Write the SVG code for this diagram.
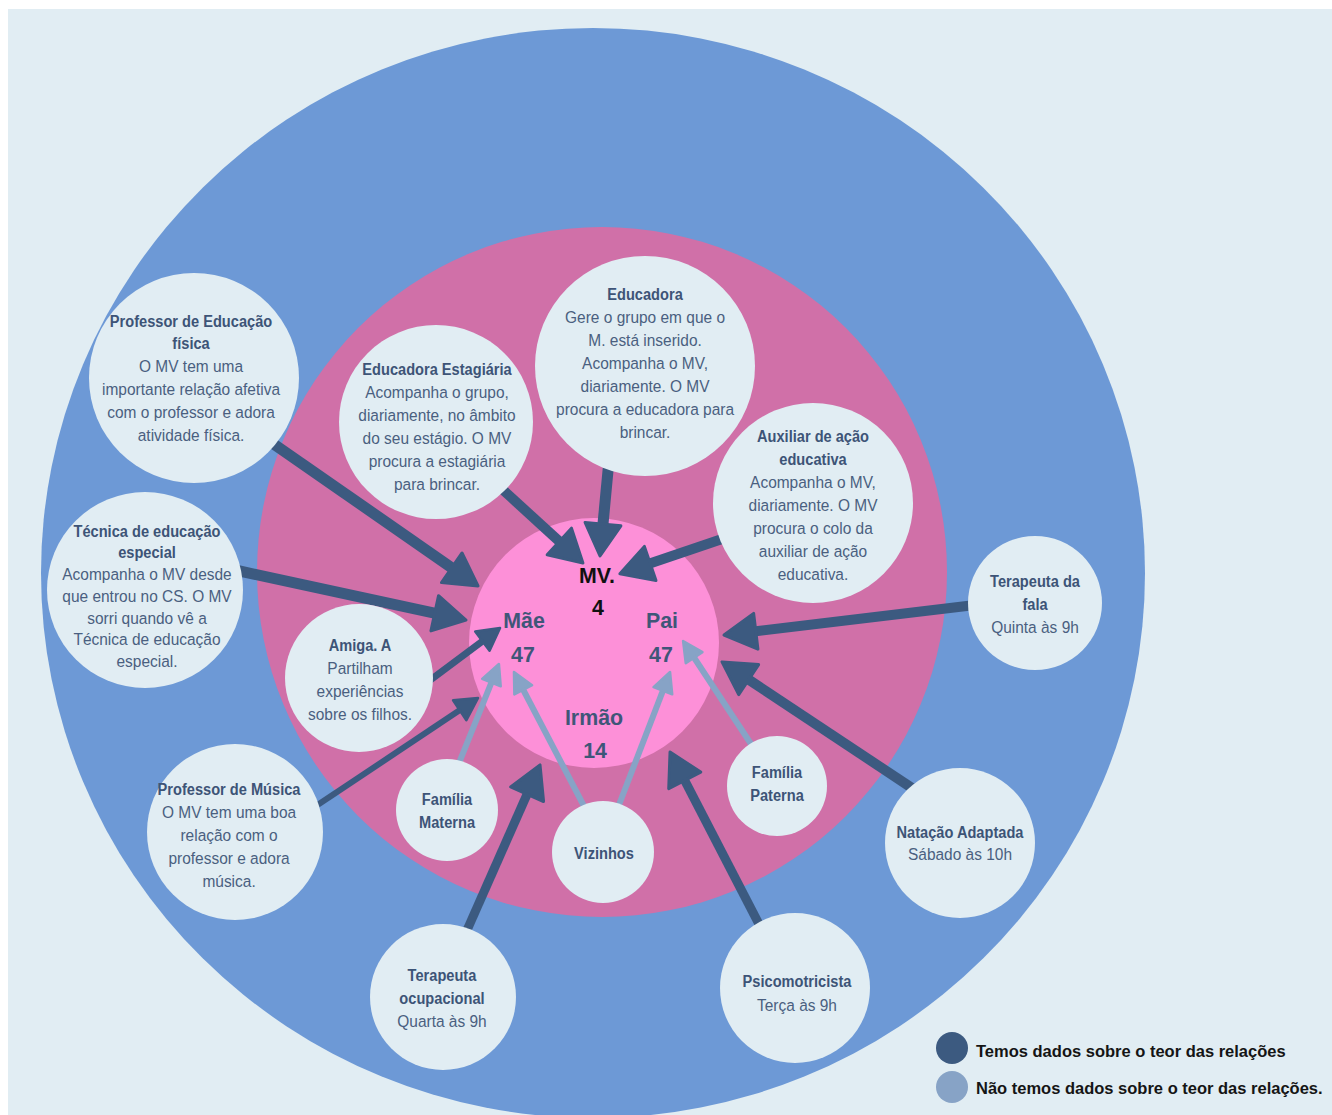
<svg xmlns="http://www.w3.org/2000/svg" width="1332" height="1115" viewBox="0 0 1332 1115">
<defs>
<style>
.bg{fill:#e1edf3}
.node{fill:#e1edf3}
.tb,.tr,.cl{font-family:"Liberation Sans",Arial,sans-serif;text-anchor:middle;transform-box:fill-box;transform-origin:center}
.tb{font-size:17px;font-weight:bold;fill:#3d5477;transform:scaleX(0.86)}
.tr{font-size:17px;fill:#4a5f80;transform:scaleX(0.91)}
.cl{font-size:23px;font-weight:bold;fill:#3f5678;transform:scaleX(0.93)}
.cl.k{fill:#111}
.dk{stroke:#3c5a80;fill:none;stroke-linecap:butt}
.lt{stroke:#87a3c6;fill:none;stroke-width:6}
.lg{font-family:"Liberation Sans",Arial,sans-serif;font-size:16.5px;font-weight:bold;fill:#151515}
</style>
<marker id="hD" markerUnits="userSpaceOnUse" markerWidth="36" markerHeight="42" viewBox="-2 -2 36 42" refX="2" refY="19" orient="auto" overflow="visible">
<path d="M0,1 L32,19 L0,37 z" fill="#3c5a80" stroke="#3c5a80" stroke-width="3" stroke-linejoin="round"/>
</marker>
<marker id="hM" markerUnits="userSpaceOnUse" markerWidth="26" markerHeight="30" viewBox="-2 -2 26 30" refX="2" refY="13" orient="auto" overflow="visible">
<path d="M0,1 L22,13 L0,25 z" fill="#3c5a80" stroke="#3c5a80" stroke-width="2.5" stroke-linejoin="round"/>
</marker>
<marker id="hL" markerUnits="userSpaceOnUse" markerWidth="24" markerHeight="26" viewBox="-2 -2 24 26" refX="2" refY="11" orient="auto" overflow="visible">
<path d="M0,1 L20,11 L0,21 z" fill="#87a3c6" stroke="#87a3c6" stroke-width="2.5" stroke-linejoin="round"/>
</marker>
</defs>
<rect x="0" y="0" width="1332" height="1115" fill="#ffffff"/>
<rect class="bg" x="8" y="9" width="1324" height="1106"/>
<g id="rings">
<ellipse cx="593" cy="573" rx="552" ry="545" fill="#6d99d6"/>
<circle cx="602" cy="572" r="345" fill="#d070a8"/>
<circle cx="594" cy="643" r="125" fill="#fd90d8"/>
</g>
<g id="connectors">
<line class="dk" stroke-width="11" x1="265" y1="438" x2="453.4" y2="568.9" marker-end="url(#hD)"/>
<line class="dk" stroke-width="10" x1="490" y1="478" x2="560.8" y2="542.8" marker-end="url(#hD)"/>
<line class="dk" stroke-width="11" x1="609" y1="460" x2="602.8" y2="526.1" marker-end="url(#hD)"/>
<line class="dk" stroke-width="10" x1="725" y1="538" x2="648.3" y2="564.1" marker-end="url(#hD)"/>
<line class="dk" stroke-width="11" x1="235" y1="570" x2="436.7" y2="613.7" marker-end="url(#hD)"/>
<line class="dk" stroke-width="7" x1="425" y1="684" x2="484" y2="640" marker-end="url(#hM)"/>
<line class="dk" stroke-width="6" x1="310" y1="810" x2="461.4" y2="709.1" marker-end="url(#hM)"/>
<line class="dk" stroke-width="9" x1="464" y1="937" x2="527.9" y2="792.4" marker-end="url(#hD)"/>
<line class="dk" stroke-width="9" x1="762" y1="930" x2="683.8" y2="778.6" marker-end="url(#hD)"/>
<line class="dk" stroke-width="10" x1="975" y1="605" x2="753.8" y2="631.5" marker-end="url(#hD)"/>
<line class="dk" stroke-width="10" x1="918" y1="792" x2="747" y2="678.5" marker-end="url(#hD)"/>
<line class="lt" x1="457" y1="768" x2="492.2" y2="680.7" marker-end="url(#hL)"/>
<line class="lt" x1="586" y1="810" x2="522.3" y2="688" marker-end="url(#hL)"/>
<line class="lt" x1="617" y1="810" x2="663.6" y2="688.8" marker-end="url(#hL)"/>
<line class="lt" x1="755" y1="750" x2="693" y2="656" marker-end="url(#hL)"/>
</g>
<g id="center">
<text class="cl k" x="597" y="583">MV.</text>
<text class="cl k" x="598" y="615">4</text>
<text class="cl" x="524" y="628">Mãe</text>
<text class="cl" x="523" y="662">47</text>
<text class="cl" x="662" y="628">Pai</text>
<text class="cl" x="661" y="662">47</text>
<text class="cl" x="594" y="725">Irmão</text>
<text class="cl" x="595" y="758">14</text>
</g>
<g id="n-prof-ed-fisica">
<circle class="node" cx="194" cy="378" r="105"/>
<text class="tb" x="191"><tspan x="191" y="327">Professor de Educação</tspan><tspan x="191" y="349">física</tspan></text>
<text class="tr" x="191"><tspan x="191" y="372">O MV tem uma</tspan><tspan x="191" y="395">importante relação afetiva</tspan><tspan x="191" y="418">com o professor e adora</tspan><tspan x="191" y="441">atividade física.</tspan></text>
</g>
<g id="n-educadora-estagiaria">
<circle class="node" cx="436" cy="422" r="97"/>
<text class="tb" x="437" y="375">Educadora Estagiária</text>
<text class="tr"><tspan x="437" y="398">Acompanha o grupo,</tspan><tspan x="437" y="421">diariamente, no âmbito</tspan><tspan x="437" y="444">do seu estágio. O MV</tspan><tspan x="437" y="467">procura a estagiária</tspan><tspan x="437" y="490">para brincar.</tspan></text>
</g>
<g id="n-educadora">
<circle class="node" cx="645" cy="366" r="110"/>
<text class="tb" x="645" y="300">Educadora</text>
<text class="tr"><tspan x="645" y="323">Gere o grupo em que o</tspan><tspan x="645" y="346">M. está inserido.</tspan><tspan x="645" y="369">Acompanha o MV,</tspan><tspan x="645" y="392">diariamente. O MV</tspan><tspan x="645" y="415">procura a educadora para</tspan><tspan x="645" y="438">brincar.</tspan></text>
</g>
<g id="n-auxiliar">
<circle class="node" cx="813" cy="503" r="100"/>
<text class="tb"><tspan x="813" y="442">Auxiliar de ação</tspan><tspan x="813" y="465">educativa</tspan></text>
<text class="tr"><tspan x="813" y="488">Acompanha o MV,</tspan><tspan x="813" y="511">diariamente. O MV</tspan><tspan x="813" y="534">procura o colo da</tspan><tspan x="813" y="557">auxiliar de ação</tspan><tspan x="813" y="580">educativa.</tspan></text>
</g>
<g id="n-tecnica">
<circle class="node" cx="145" cy="590" r="98"/>
<text class="tb"><tspan x="147" y="537">Técnica de educação</tspan><tspan x="147" y="558">especial</tspan></text>
<text class="tr"><tspan x="147" y="580">Acompanha o MV desde</tspan><tspan x="147" y="602">que entrou no CS. O MV</tspan><tspan x="147" y="624">sorri quando vê a</tspan><tspan x="147" y="645">Técnica de educação</tspan><tspan x="147" y="667">especial.</tspan></text>
</g>
<g id="n-amiga">
<circle class="node" cx="359" cy="678" r="74"/>
<text class="tb" x="360" y="651">Amiga. A</text>
<text class="tr"><tspan x="360" y="674">Partilham</tspan><tspan x="360" y="697">experiências</tspan><tspan x="360" y="720">sobre os filhos.</tspan></text>
</g>
<g id="n-prof-musica">
<circle class="node" cx="235" cy="832" r="88"/>
<text class="tb" x="229" y="795">Professor de Música</text>
<text class="tr"><tspan x="229" y="818">O MV tem uma boa</tspan><tspan x="229" y="841">relação com o</tspan><tspan x="229" y="864">professor e adora</tspan><tspan x="229" y="887">música.</tspan></text>
</g>
<g id="n-familia-materna">
<circle class="node" cx="447" cy="810" r="51"/>
<text class="tb"><tspan x="447" y="805">Família</tspan><tspan x="447" y="828">Materna</tspan></text>
</g>
<g id="n-vizinhos">
<circle class="node" cx="603" cy="852" r="51"/>
<text class="tb" x="604" y="859">Vizinhos</text>
</g>
<g id="n-familia-paterna">
<circle class="node" cx="777" cy="786" r="50"/>
<text class="tb"><tspan x="777" y="778">Família</tspan><tspan x="777" y="801">Paterna</tspan></text>
</g>
<g id="n-terapeuta-fala">
<circle class="node" cx="1035" cy="603" r="67"/>
<text class="tb"><tspan x="1035" y="587">Terapeuta da</tspan><tspan x="1035" y="610">fala</tspan></text>
<text class="tr" x="1035" y="633">Quinta às 9h</text>
</g>
<g id="n-natacao">
<circle class="node" cx="960" cy="843" r="75"/>
<text class="tb" x="960" y="838">Natação Adaptada</text>
<text class="tr" x="960" y="860">Sábado às 10h</text>
</g>
<g id="n-terapeuta-ocupacional">
<circle class="node" cx="443" cy="997" r="73"/>
<text class="tb"><tspan x="442" y="981">Terapeuta</tspan><tspan x="442" y="1004">ocupacional</tspan></text>
<text class="tr" x="442" y="1027">Quarta às 9h</text>
</g>
<g id="n-psicomotricista">
<circle class="node" cx="795" cy="988" r="75"/>
<text class="tb" x="797" y="987">Psicomotricista</text>
<text class="tr" x="797" y="1011">Terça às 9h</text>
</g>
<g id="legend">
<circle cx="952" cy="1048" r="16" fill="#3c5a80"/>
<circle cx="952" cy="1087" r="16" fill="#87a3c6"/>
<text class="lg" x="976" y="1057">Temos dados sobre o teor das relações</text>
<text class="lg" x="976" y="1094">Não temos dados sobre o teor das relações.</text>
</g>
</svg>
